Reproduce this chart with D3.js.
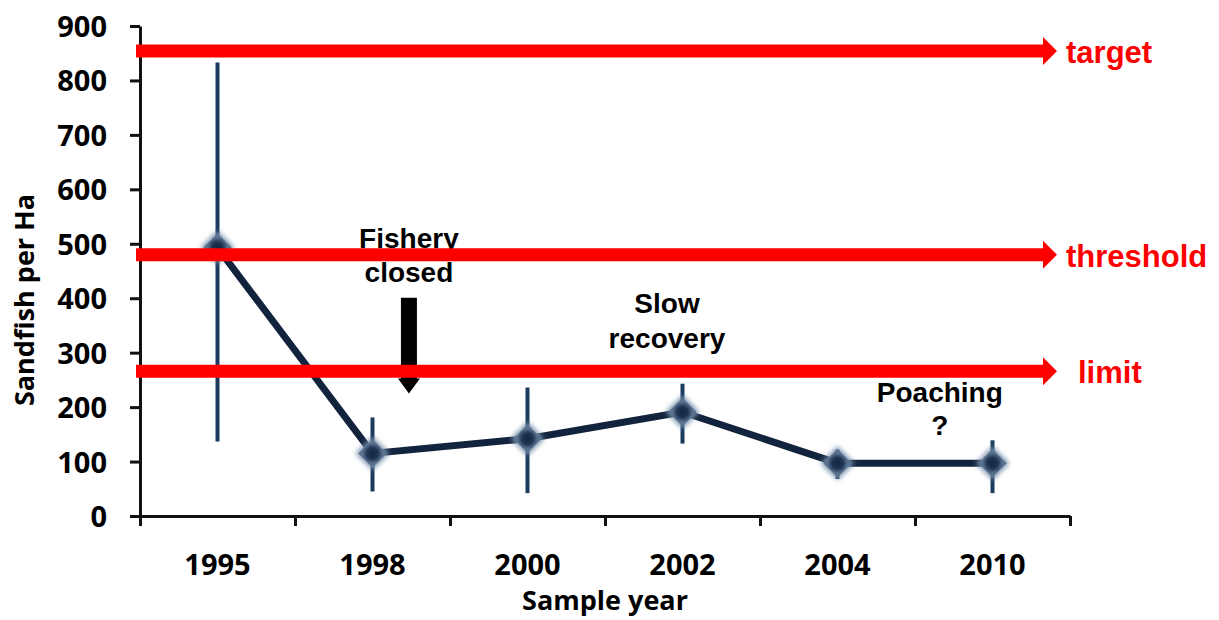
<!DOCTYPE html>
<html>
<head>
<meta charset="utf-8">
<script src="https://cdn.jsdelivr.net/npm/d3@7"></script>
<style>
  body { margin: 0; background: #fff; }
  svg { display: block; }
  .axis path, .axis line { stroke: #111; stroke-width: 3; }
  .axis text { font-family: "Open Sans", sans-serif; font-weight: 700; font-size: 29px; fill: #000; }
  .title { font-family: "Open Sans", sans-serif; font-weight: 700; font-size: 27px; fill: #000; }
  .note { font-family: "Liberation Sans", Arial, sans-serif; font-weight: 700; font-size: 28px; fill: #000; }
  .refLabel { font-family: "Liberation Sans", Arial, sans-serif; font-weight: 700; font-size: 31px; fill: #ff0000; }
</style>
</head>
<body>
<svg width="1219" height="620"></svg>
<script>
// sample years and sandfish density (per ha)
var years = ["1995", "1998", "2000", "2002", "2004", "2010"];
var density = [493, 115, 142, 191, 97, 97];
var errLow  = [137, 45, 42, 133, 68, 42];
var errHigh = [833, 181, 236, 243, 122, 139];

// reference points
var refNames  = ["target", "threshold", "limit"];
var refValues = [854, 480, 266];

var yTicks = [0, 100, 200, 300, 400, 500, 600, 700, 800, 900];

// annotations: position as category index / value
var noteLines = [
    {text: "Fishery", at: 1.235, value: 493},
    {text: "closed", at: 1.235, value: 429},
    {text: "Slow", at: 2.9, value: 372},
    {text: "recovery", at: 2.9, value: 308},
    {text: "Poaching", at: 4.66, value: 209},
    {text: "?", at: 4.66, value: 148}
];
var closeArrow = {at: 1.235, from: 401, to: 225};

var margin = {left: 140, top: 26, right: 149, bottom: 104};
var svg = d3.select("svg");
var width  = 1219 - margin.left - margin.right;
var height = 620 - margin.top - margin.bottom;
var svgG = svg.append("g")
    .attr("transform", "translate(" + margin.left + "," + margin.top + ")");

var xScale = d3.scaleBand()
    .domain(years)
    .range([0, width]);
// index scale, centre of category i is at i
var xIdx = d3.scaleLinear()
    .domain([-0.5, years.length - 0.5])
    .range([0, width]);
var yScale = d3.scaleLinear()
    .domain([0, 900])
    .range([height, 0]);

var defs = svg.append("defs");
var glow = defs.append("filter").attr("id", "glow")
    .attr("x", "-50%").attr("y", "-50%").attr("width", "200%").attr("height", "200%");
glow.append("feGaussianBlur").attr("stdDeviation", 2.5);
var grad = defs.append("radialGradient").attr("id", "markFill");
grad.append("stop").attr("offset", "0%").attr("stop-color", "#15263f");
grad.append("stop").attr("offset", "55%").attr("stop-color", "#1d3553");
grad.append("stop").attr("offset", "100%").attr("stop-color", "#58728f");

// axes
svgG.append("g")
    .attr("class", "axis")
    .call(d3.axisLeft(yScale)
        .tickValues(yTicks)
        .tickSize(10)
        .tickPadding(23)
        .tickSizeOuter(0))
    .selectAll("text").attr("dy", "0.36em");

svgG.append("g")
    .attr("class", "axis")
    .attr("transform", "translate(0," + height + ")")
    .call(d3.axisBottom(xIdx)
        .tickValues(d3.range(years.length + 1).map(function(i) { return i - 0.5; }))
        .tickSize(10)
        .tickSizeOuter(0)
        .tickFormat(""));

var xLab = svgG.append("g")
    .attr("class", "axis")
    .attr("transform", "translate(0," + height + ")")
    .call(d3.axisBottom(xScale).tickSize(0).tickPadding(0));
xLab.select(".domain").remove();
xLab.selectAll("text").attr("y", 59).attr("dy", 0);

svg.append("text")
    .attr("class", "title")
    .attr("x", 605).attr("y", 610)
    .attr("text-anchor", "middle")
    .text("Sample year");

svg.append("text")
    .attr("class", "title")
    .attr("transform", "translate(34,300) rotate(-90)")
    .attr("text-anchor", "middle")
    .text("Sandfish per Ha");

// notes (drawn below the reference lines)
svgG.selectAll(".note")
    .data(noteLines)
    .enter().append("text")
    .attr("class", "note")
    .attr("text-anchor", "middle")
    .attr("x", function(d) { return xIdx(d.at); })
    .attr("y", function(d) { return yScale(d.value); })
    .text(function(d) { return d.text; });

var ax = xIdx(closeArrow.at), ay0 = yScale(closeArrow.from), ay1 = yScale(closeArrow.to);
svgG.append("path")
    .attr("fill", "#000")
    .attr("d", "M" + (ax - 8) + "," + ay0 + "H" + (ax + 8) + "V" + (ay1 - 15) +
        "H" + (ax + 11) + "L" + ax + "," + ay1 + "L" + (ax - 11) + "," + (ay1 - 15) +
        "H" + (ax - 8) + "Z");

// error bars
var pts = years.map(function(y, i) {
    return {x: y, y: density[i], lo: errLow[i], hi: errHigh[i]};
});
svgG.selectAll(".err")
    .data(pts)
    .enter().append("line")
    .attr("class", "err")
    .attr("stroke", "#1b3a5e")
    .attr("stroke-width", 4)
    .attr("x1", function(d) { return xScale(d.x) + xScale.bandwidth() / 2; })
    .attr("x2", function(d) { return xScale(d.x) + xScale.bandwidth() / 2; })
    .attr("y1", function(d) { return yScale(d.lo); })
    .attr("y2", function(d) { return yScale(d.hi); });

var line = d3.line()
    .x(function(d) { return xScale(d.x) + xScale.bandwidth() / 2; })
    .y(function(d) { return yScale(d.y); });
svgG.append("path")
    .attr("fill", "none")
    .attr("stroke", "#12233d")
    .attr("stroke-width", 7)
    .attr("d", line(pts));

var diamond = d3.symbol().type(d3.symbolSquare);
var marks = svgG.selectAll(".mark")
    .data(pts)
    .enter().append("g")
    .attr("class", "mark")
    .attr("transform", function(d) {
        return "translate(" + (xScale(d.x) + xScale.bandwidth() / 2) + "," + yScale(d.y) + ") rotate(45)";
    });
marks.append("path")
    .attr("d", diamond.size(560)())
    .attr("fill", "#7790ab")
    .attr("filter", "url(#glow)");
marks.append("path")
    .attr("d", diamond.size(400)())
    .attr("fill", "url(#markFill)");

// reference arrows
var refs = refNames.map(function(n, i) { return {name: n, value: refValues[i]}; });
var x0 = -4, xTip = 917;
var refG = svgG.selectAll(".ref")
    .data(refs)
    .enter().append("g")
    .attr("class", "ref")
    .attr("transform", function(d) { return "translate(0," + yScale(d.value) + ")"; });
refG.append("path")
    .attr("fill", "#ff0000")
    .attr("d", "M" + x0 + ",-6.5H" + (xTip - 14) + "V-14L" + xTip + ",0L" + (xTip - 14) +
        ",14V6.5H" + x0 + "Z");
refG.append("text")
    .attr("class", "refLabel")
    .attr("x", function(d) { return d.name === "limit" ? xTip + 21 : xTip + 9; })
    .attr("y", 12)
    .text(function(d) { return d.name; });
</script>
</body>
</html>
